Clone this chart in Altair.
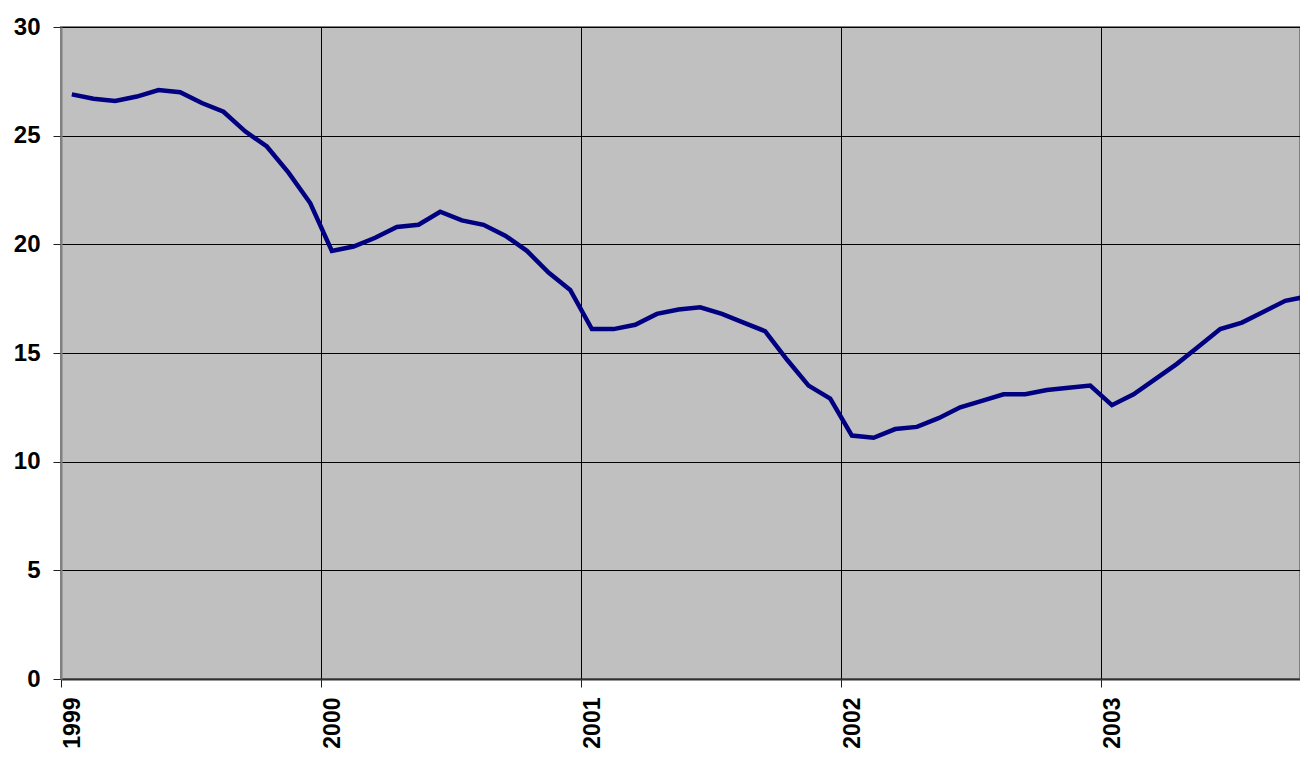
import altair as alt
import pandas as pd

values_1999 = [26.9, 26.7, 26.6, 26.8, 27.1, 27.0, 26.5, 26.1, 25.2, 24.5, 23.3, 21.9]
values_2000 = [19.7, 19.9, 20.3, 20.8, 20.9, 21.5, 21.1, 20.9, 20.4, 19.7, 18.7, 17.9]
values_2001 = [16.1, 16.1, 16.3, 16.8, 17.0, 17.1, 16.8, 16.4, 16.0, 14.7, 13.5, 12.9]
values_2002 = [11.2, 11.1, 11.5, 11.6, 12.0, 12.5, 12.8, 13.1, 13.1, 13.3, 13.4, 13.5]
values_2003 = [12.6, 13.1, 13.8, 14.5, 15.3, 16.1, 16.4, 16.9, 17.4, 17.6]

years = [1999, 2000, 2001, 2002, 2003]
series = [values_1999, values_2000, values_2001, values_2002, values_2003]

rows = []
for yi, (yr, vals) in enumerate(zip(years, series)):
    for m, v in enumerate(vals):
        rows.append({"t": yi * 12 + m + 0.5, "value": v})
df = pd.DataFrame(rows)

FONT = "Liberation Sans"

chart = (
    alt.Chart(df)
    .mark_line(color="#000080", strokeWidth=4.5, clip=True)
    .encode(
        x=alt.X(
            "t:Q",
            scale=alt.Scale(domain=[0, 57.18], nice=False, zero=False),
            axis=alt.Axis(
                title=None,
                values=[0, 12, 24, 36, 48],
                labelExpr="format(1999 + datum.value / 12, 'd')",
                labelAngle=270,
                labelAlign="right",
                labelBaseline="top",
                labelPadding=10,
                labelFont=FONT,
                labelFontSize=23,
                labelFontWeight="bold",
                labelColor="black",
                tickSize=8,
                tickColor="#202020",
                domainColor="#303030",
                domainWidth=2,
                grid=True,
                gridColor="black",
                gridWidth=1,
                labelFlush=False,
                labelOverlap=False,
            ),
        ),
        y=alt.Y(
            "value:Q",
            scale=alt.Scale(domain=[0, 30], nice=False),
            axis=alt.Axis(
                title=None,
                values=[0, 5, 10, 15, 20, 25, 30],
                labelPadding=13,
                labelFont=FONT,
                labelFontSize=24,
                labelFontWeight="bold",
                labelColor="black",
                tickSize=8,
                tickColor="#202020",
                domainColor="#808080",
                domainWidth=2,
                grid=True,
                gridColor="black",
                gridWidth=1,
                labelFlush=False,
                labelOverlap=False,
            ),
        ),
    )
    .properties(
        width=1239,
        height=652,
        autosize=alt.AutoSizeParams(type="none"),
        padding={"left": 53, "top": 19, "right": 0, "bottom": 71},
        background="white",
    )
    .configure_view(fill="#C0C0C0", stroke="#808080", strokeWidth=2)
)

chart.save("out.html", embed_options={"renderer": "svg", "actions": False})
